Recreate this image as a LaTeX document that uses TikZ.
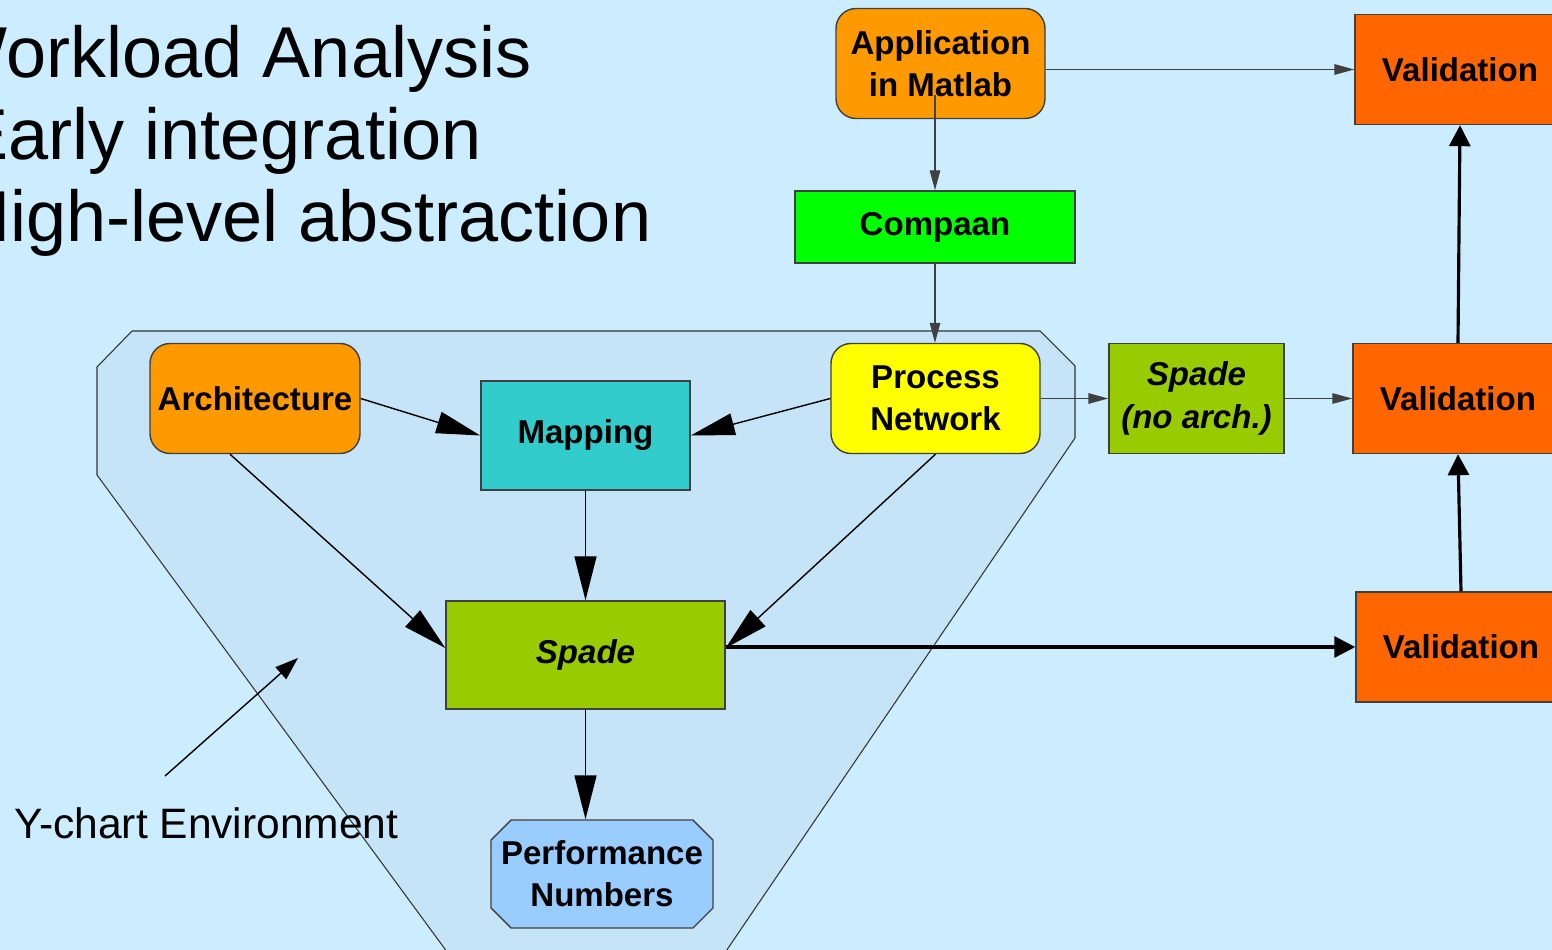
\documentclass[tikz,border=0pt]{standalone}
\usepackage{fontspec}
\setmainfont{Liberation Sans}
\usetikzlibrary{arrows.meta, positioning, shapes.misc}
\definecolor{slideBlue}{HTML}{CCECFF}
\definecolor{envBlue}{HTML}{C5E4F7}
\definecolor{boxOrange}{HTML}{FF9900}
\definecolor{boxGreen}{HTML}{00FF00}
\definecolor{boxYellow}{HTML}{FFFF00}
\definecolor{boxTeal}{HTML}{33CCCC}
\definecolor{spadeGreen}{HTML}{99CC00}
\definecolor{perfBlue}{HTML}{99CCFF}
\definecolor{valOrange}{HTML}{FF6600}

\begin{document}
\begin{tikzpicture}[x=1cm,y=1cm,
  box/.style={draw=black!75, line width=0.4pt, inner sep=0pt, minimum width=2.1cm,
              minimum height=1.1cm, align=center, font=\fontsize{9.4}{12}\selectfont\bfseries},
  roundbox/.style={box, rounded corners=2mm},
  bigtip/.style={draw=black, -{Triangle[length=4.4mm,width=2.2mm]}},
  smalltip/.style={draw=black!75, -{Triangle[length=2mm,width=1.05mm]}},
  thicktip/.style={draw=black, line width=0.9pt, -{Triangle[length=2.1mm,width=2.1mm]}},
  titletext/.style={anchor=base east, inner sep=0pt, font=\fontsize{20.5}{24}\selectfont}]
  % --- page and clip ---
  \useasboundingbox (0,0) rectangle (15.52,-9.50);
  \fill[slideBlue] (0,0) rectangle (15.52,-9.50);
  \clip (0,0) rectangle (15.52,-9.50);
  % --- y-chart environment ---
  \path[fill=envBlue, draw=black!80, line width=0.3pt]
    (1.32,-3.31) -- (10.40,-3.31) -- (10.75,-3.66) -- (10.75,-4.38) -- (7.20,-9.60)
    -- (4.53,-9.60) -- (0.97,-4.75) -- (0.97,-3.67) -- cycle;
  % --- title ---
  \node[titletext] (ttlA) at (5.32,-0.78) {Workload Analysis};
  \node[titletext] (ttlB) at (4.82,-1.60) {Early integration};
  \node[titletext] (ttlC) at (6.52,-2.42) {High-level abstraction};
  % --- boxes ---
  \node[roundbox, fill=boxOrange, minimum width=2.09cm] (app) at (9.405,-0.635) {Application\\in Matlab};
  \node[box, fill=boxGreen, minimum width=2.80cm, minimum height=0.72cm] (compaan) at (9.35,-2.27) {Compaan};
  \node[roundbox, fill=boxYellow, minimum width=2.09cm] (pn) at (9.355,-3.985) {Process\\Network};
  \node[roundbox, fill=boxOrange] (arch) at (2.55,-3.985) {Architecture};
  \node[box, fill=boxTeal, minimum width=2.09cm, minimum height=1.09cm] (map) at (5.855,-4.355) {Mapping};
  \node[box, fill=spadeGreen, minimum width=2.79cm, minimum height=1.08cm] (spade) at (5.855,-6.55) {\itshape Spade};
  \node[box, chamfered rectangle, chamfered rectangle xsep=1mm, chamfered rectangle ysep=1mm,
        fill=perfBlue, minimum height=1.08cm] (perf) at (6.02,-8.74) {Performance\\Numbers};
  \node[box, fill=spadeGreen, minimum width=1.75cm] (noarch) at (11.965,-3.985) {\itshape Spade\\\itshape (no arch.)};
  \node[box, fill=valOrange] (valA) at (14.60,-0.695) {Validation};
  \node[box, fill=valOrange] (valB) at (14.58,-3.985) {Validation};
  \node[box, fill=valOrange] (valC) at (14.61,-6.47) {Validation};
  % --- connectors ---
  \draw[smalltip] ([yshift=2.4mm]app.south -| compaan.north) -- (compaan.north);
  \draw[smalltip] (app.east |- valA.west) -- (valA.west);
  \draw[smalltip] (compaan.south) -- (pn.north -| compaan.south);
  \draw[smalltip] (pn.east) -- (noarch.west);
  \draw[smalltip] (noarch.east) -- (valB.west);
  \draw[bigtip] (arch.east) -- (map.west);
  \draw[bigtip] (pn.west) -- (map.east);
  \draw[bigtip] ([xshift=-2.5mm]arch.south) -- ([yshift=0.7mm]spade.west);
  \draw[bigtip] (pn.south) -- ([yshift=0.7mm]spade.east);
  \draw[bigtip] (map.south) -- (spade.north);
  \draw[bigtip] (spade.south) -- (perf.north -| spade.south);
  \draw[thicktip] (valC.west -| spade.east) -- (valC.west);
  \draw[thicktip] (valC.north) -- (valB.south);
  \draw[thicktip] (valB.north) -- (valA.south);
  % --- annotation ---
  \coordinate (envFrom) at (1.65,-7.76);
  \coordinate (envTo) at (2.98,-6.58);
  \draw[draw=black, -{Triangle[length=2.3mm,width=1.6mm]}] (envFrom) -- (envTo);
  \node[font=\fontsize{12.1}{15}\selectfont, inner sep=0pt, anchor=base west] (envlbl) at (0.14,-8.38) {Y-chart Environment};
\end{tikzpicture}
\end{document}
